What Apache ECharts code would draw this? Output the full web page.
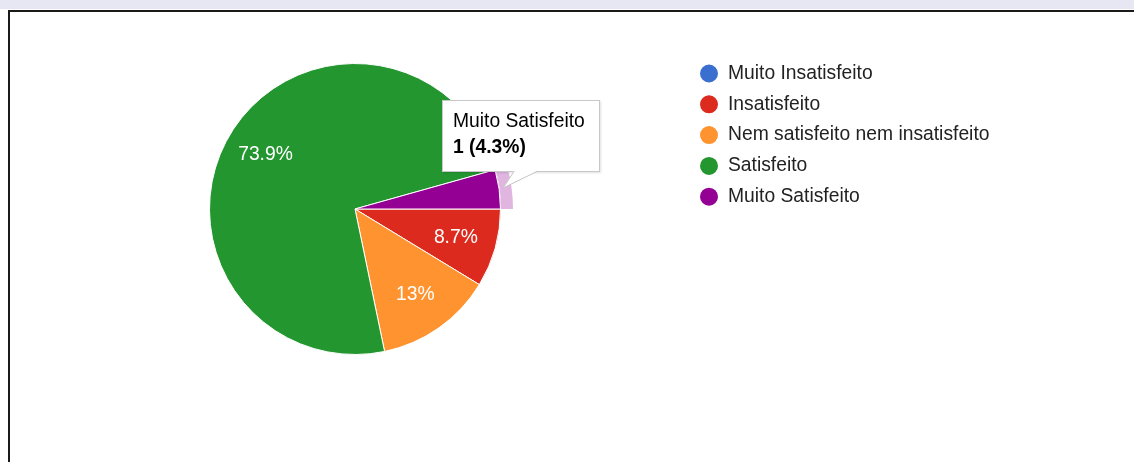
<!DOCTYPE html>
<html>
<head>
<meta charset="utf-8">
<script src="https://cdn.jsdelivr.net/npm/echarts@6/dist/echarts.min.js"></script>
<style>
  html, body { margin: 0; padding: 0; background: #fff; }
  #strip { position: absolute; left: 0; top: 0; width: 1134px; height: 9px; background: #e7e7f3; }
  #frame { position: absolute; left: 8px; top: 10px; width: 1126px; height: 452px;
           border-top: 2px solid #1a1a1a; border-left: 2px solid #1a1a1a; box-sizing: border-box; }
  #chart { position: absolute; left: 0; top: 0; width: 1134px; height: 462px; }
</style>
</head>
<body>
<div id="strip"></div>
<div id="frame"></div>
<div id="chart"></div>
<script>
// Survey answers: satisfaction levels and response counts
const categories = [
  'Muito Insatisfeito',
  'Insatisfeito',
  'Nem satisfeito nem insatisfeito',
  'Satisfeito',
  'Muito Satisfeito'
];
const responses = [0, 2, 3, 17, 1];
const sliceColors = ['#3a6fcf', '#dc2a1f', '#fe932f', '#249630', '#930093'];

// Slice that is shown focused (outer ring + tooltip)
const focusedName = 'Muito Satisfeito';
const focusRingColor = '#e0b5e0';

const FONT = 'Arial, "Liberation Sans", sans-serif';
const FONT_SIZE = 19.3;
const CENTER = [355, 209];
const RADIUS = 145.5;
const minLabelPercent = 5;

const total = responses.reduce((a, b) => a + b, 0);
const pct = v => +(v / total * 100).toFixed(1);
const focusedIndex = categories.indexOf(focusedName);

const pieData = categories.map((name, i) => ({
  name, value: responses[i], itemStyle: { color: sliceColors[i] }
}));

const chart = echarts.init(document.getElementById('chart'), null, { renderer: 'canvas' });

// screen position of the focused slice's outer rim, at its middle angle
function focusTip() {
  let before = 0;
  for (let i = 0; i < focusedIndex; i++) before += responses[i];
  const mid = (before + responses[focusedIndex] / 2) / total * 2 * Math.PI;
  const r = RADIUS + 4;
  return [CENTER[0] + r * Math.cos(mid), CENTER[1] + r * Math.sin(mid)];
}

const tailSvg =
  '<svg width="100" height="20" style="position:absolute;left:-1px;top:100%;overflow:visible">' +
  '<polygon points="72,0 95,0 61,17" fill="#fff"/>' +
  '<polyline points="72,0.5 61,17 95,0.5" fill="none" stroke="#c4c4c4" stroke-width="1"/>' +
  '</svg>';

chart.setOption({
  animation: false,
  tooltip: {
    trigger: 'item',
    triggerOn: 'none',
    alwaysShowContent: true,
    transitionDuration: 0,
    backgroundColor: '#fff',
    borderColor: '#c8c8c8',
    borderWidth: 1,
    padding: [7, 14, 11, 10],
    extraCssText: 'border-radius:0;box-shadow:1px 1px 2px rgba(0,0,0,0.12);',
    textStyle: { fontFamily: FONT, fontSize: FONT_SIZE, color: '#000', lineHeight: 26 },
    formatter: p =>
      '<div style="font-family:' + FONT.replace(/"/g, "'") + ';font-size:' + FONT_SIZE +
      'px;line-height:26px;color:#000">' +
      p.name + '<br><b>' + p.value + ' (' + pct(p.value) + '%)</b></div>' + tailSvg,
    position: (point, params, dom, rect, size) => {
      const tip = focusTip();
      return [tip[0] - 61, tip[1] - 17 - size.contentSize[1]];
    }
  },
  legend: {
    orient: 'vertical',
    left: 698,
    top: 62.5,
    padding: 0,
    icon: 'circle',
    itemWidth: 28,
    itemHeight: 20,
    itemGap: 8.8,
    selectedMode: false,
    textStyle: { fontFamily: FONT, fontSize: FONT_SIZE, color: '#222', lineHeight: 20 },
    data: categories
  },
  series: [
    {
      // the pie itself
      type: 'pie',
      center: CENTER,
      radius: [0, RADIUS],
      startAngle: 0,
      clockwise: true,
      label: { show: false },
      labelLine: { show: false },
      itemStyle: { borderColor: '#fff', borderWidth: 1 },
      emphasis: { disabled: true },
      data: pieData
    },
    {
      // focus ring around the highlighted slice
      type: 'pie',
      silent: true,
      center: CENTER,
      radius: [RADIUS + 0.5, RADIUS + 12.5],
      startAngle: 0,
      clockwise: true,
      label: { show: false },
      labelLine: { show: false },
      tooltip: { show: false },
      emphasis: { disabled: true },
      data: categories.map((name, i) => ({
        name, value: responses[i],
        itemStyle: { color: i === focusedIndex ? focusRingColor : 'rgba(0,0,0,0)' }
      }))
    },
    {
      // percentage labels placed inside the slices
      type: 'pie',
      silent: true,
      center: CENTER,
      radius: [58, RADIUS],
      startAngle: 0,
      clockwise: true,
      labelLine: { show: false },
      tooltip: { show: false },
      emphasis: { disabled: true },
      itemStyle: { color: 'rgba(0,0,0,0)' },
      label: {
        show: true,
        position: 'inside',
        fontFamily: FONT,
        fontSize: FONT_SIZE,
        color: '#fff',
        formatter: p => pct(p.value) >= minLabelPercent ? pct(p.value) + '%' : ''
      },
      data: categories.map((name, i) => ({ name, value: responses[i] }))
    }
  ]
});

chart.dispatchAction({ type: 'showTip', seriesIndex: 0, dataIndex: focusedIndex });
</script>
</body>
</html>
